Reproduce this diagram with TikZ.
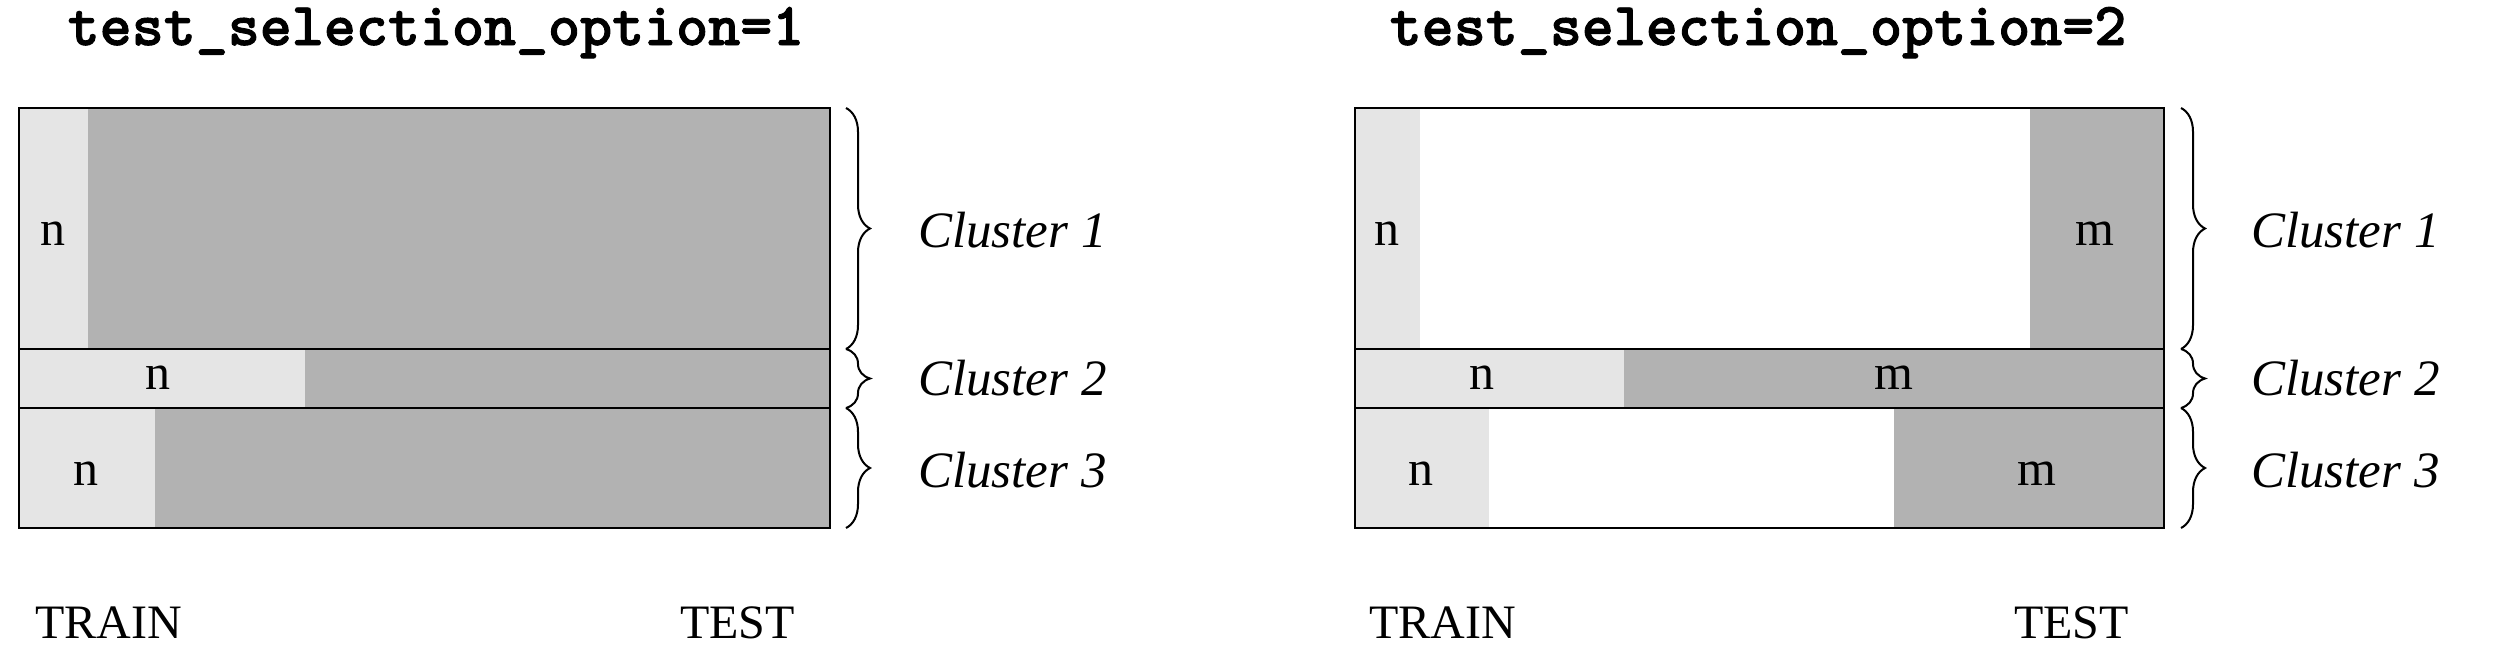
\documentclass[tikz,border=0pt]{standalone}
\usepackage{fontspec}
\setmainfont{Liberation Serif}
\newfontfamily\titlefont[FakeBold=1.5]{lmmonolt10-bold.otf}
\usetikzlibrary{decorations.pathreplacing}
\tikzset{
 light/.style={fill=black!10, draw=none},
 dark/.style={fill=black!30, draw=none},
 frame/.style={draw=black, line width=2.5pt},
 cbrace/.style={decorate, decoration={brace, amplitude=24pt}, line width=2pt},
 lab/.style={font=\fontsize{50}{50}\selectfont, inner sep=0pt, anchor=base},
 clab/.style={font=\fontsize{51}{51}\selectfont\itshape, anchor=base west, inner sep=0pt},
 ttl/.style={font=\titlefont\bfseries\fontsize{61}{61}\selectfont, inner sep=0pt, anchor=base},
 axl/.style={font=\fontsize{48}{48}\selectfont, anchor=base west, inner sep=0pt},
}
\begin{document}
\begin{tikzpicture}[x=1pt,y=-1pt]
\useasboundingbox (0,0) rectangle (2502,651);
% ---------- titles
\node[ttl] (t1) at (436,45) {test\_selection\_option=1};
\node[ttl] (t2) at (1758,45) {test\_selection\_option=2};
% ---------- left panel fills
\fill[dark] (19,108) rectangle (830,528);
\fill[light] (19,108) rectangle (88,349);
\fill[light] (19,349) rectangle (305,408);
\fill[light] (19,408) rectangle (155,528);
\draw[frame] (19,108) rectangle (830,528);
\draw[frame] (19,349) -- (830,349);
\draw[frame] (19,408) -- (830,408);
\node[lab] (l1n) at (53,245) {n};
\node[lab] (l2n) at (158,389) {n};
\node[lab] (l3n) at (86,485) {n};
% ---------- right panel fills
\fill[light] (1355,108) rectangle (1420,349);
\fill[dark] (2030,108) rectangle (2164,349);
\fill[light] (1355,349) rectangle (1624,408);
\fill[dark] (1624,349) rectangle (2164,408);
\fill[light] (1355,408) rectangle (1489,528);
\fill[dark] (1894,408) rectangle (2164,528);
\draw[frame] (1355,108) rectangle (2164,528);
\draw[frame] (1355,349) -- (2164,349);
\draw[frame] (1355,408) -- (2164,408);
\node[lab] (r1n) at (1387,245) {n};
\node[lab] (r1m) at (2095,245) {m};
\node[lab] (r2n) at (1482,389) {n};
\node[lab] (r2m) at (1894,389) {m};
\node[lab] (r3n) at (1421,485) {n};
\node[lab] (r3m) at (2037,485) {m};
% ---------- braces left
\coordinate (lb0) at (846,108);
\coordinate (lb1) at (846,349);
\coordinate (lb2) at (846,408);
\coordinate (lb3) at (846,528);
\draw[cbrace] (lb0) -- (lb1);
\draw[cbrace] (lb1) -- (lb2);
\draw[cbrace] (lb2) -- (lb3);
\node[clab] (lc1) at (918,247) {Cluster 1};
\node[clab] (lc2) at (918,395) {Cluster 2};
\node[clab] (lc3) at (918,487) {Cluster 3};
% ---------- braces right
\coordinate (rb0) at (2181,108);
\coordinate (rb1) at (2181,349);
\coordinate (rb2) at (2181,408);
\coordinate (rb3) at (2181,528);
\draw[cbrace] (rb0) -- (rb1);
\draw[cbrace] (rb1) -- (rb2);
\draw[cbrace] (rb2) -- (rb3);
\node[clab] (rc1) at (2251,247) {Cluster 1};
\node[clab] (rc2) at (2251,395) {Cluster 2};
\node[clab] (rc3) at (2251,487) {Cluster 3};
% ---------- axis labels
\node[axl] (tr1) at (35,638) {TRAIN};
\node[axl] (te1) at (680,638) {TEST};
\node[axl] (tr2) at (1369,638) {TRAIN};
\node[axl] (te2) at (2014,638) {TEST};
\end{tikzpicture}
\end{document}
